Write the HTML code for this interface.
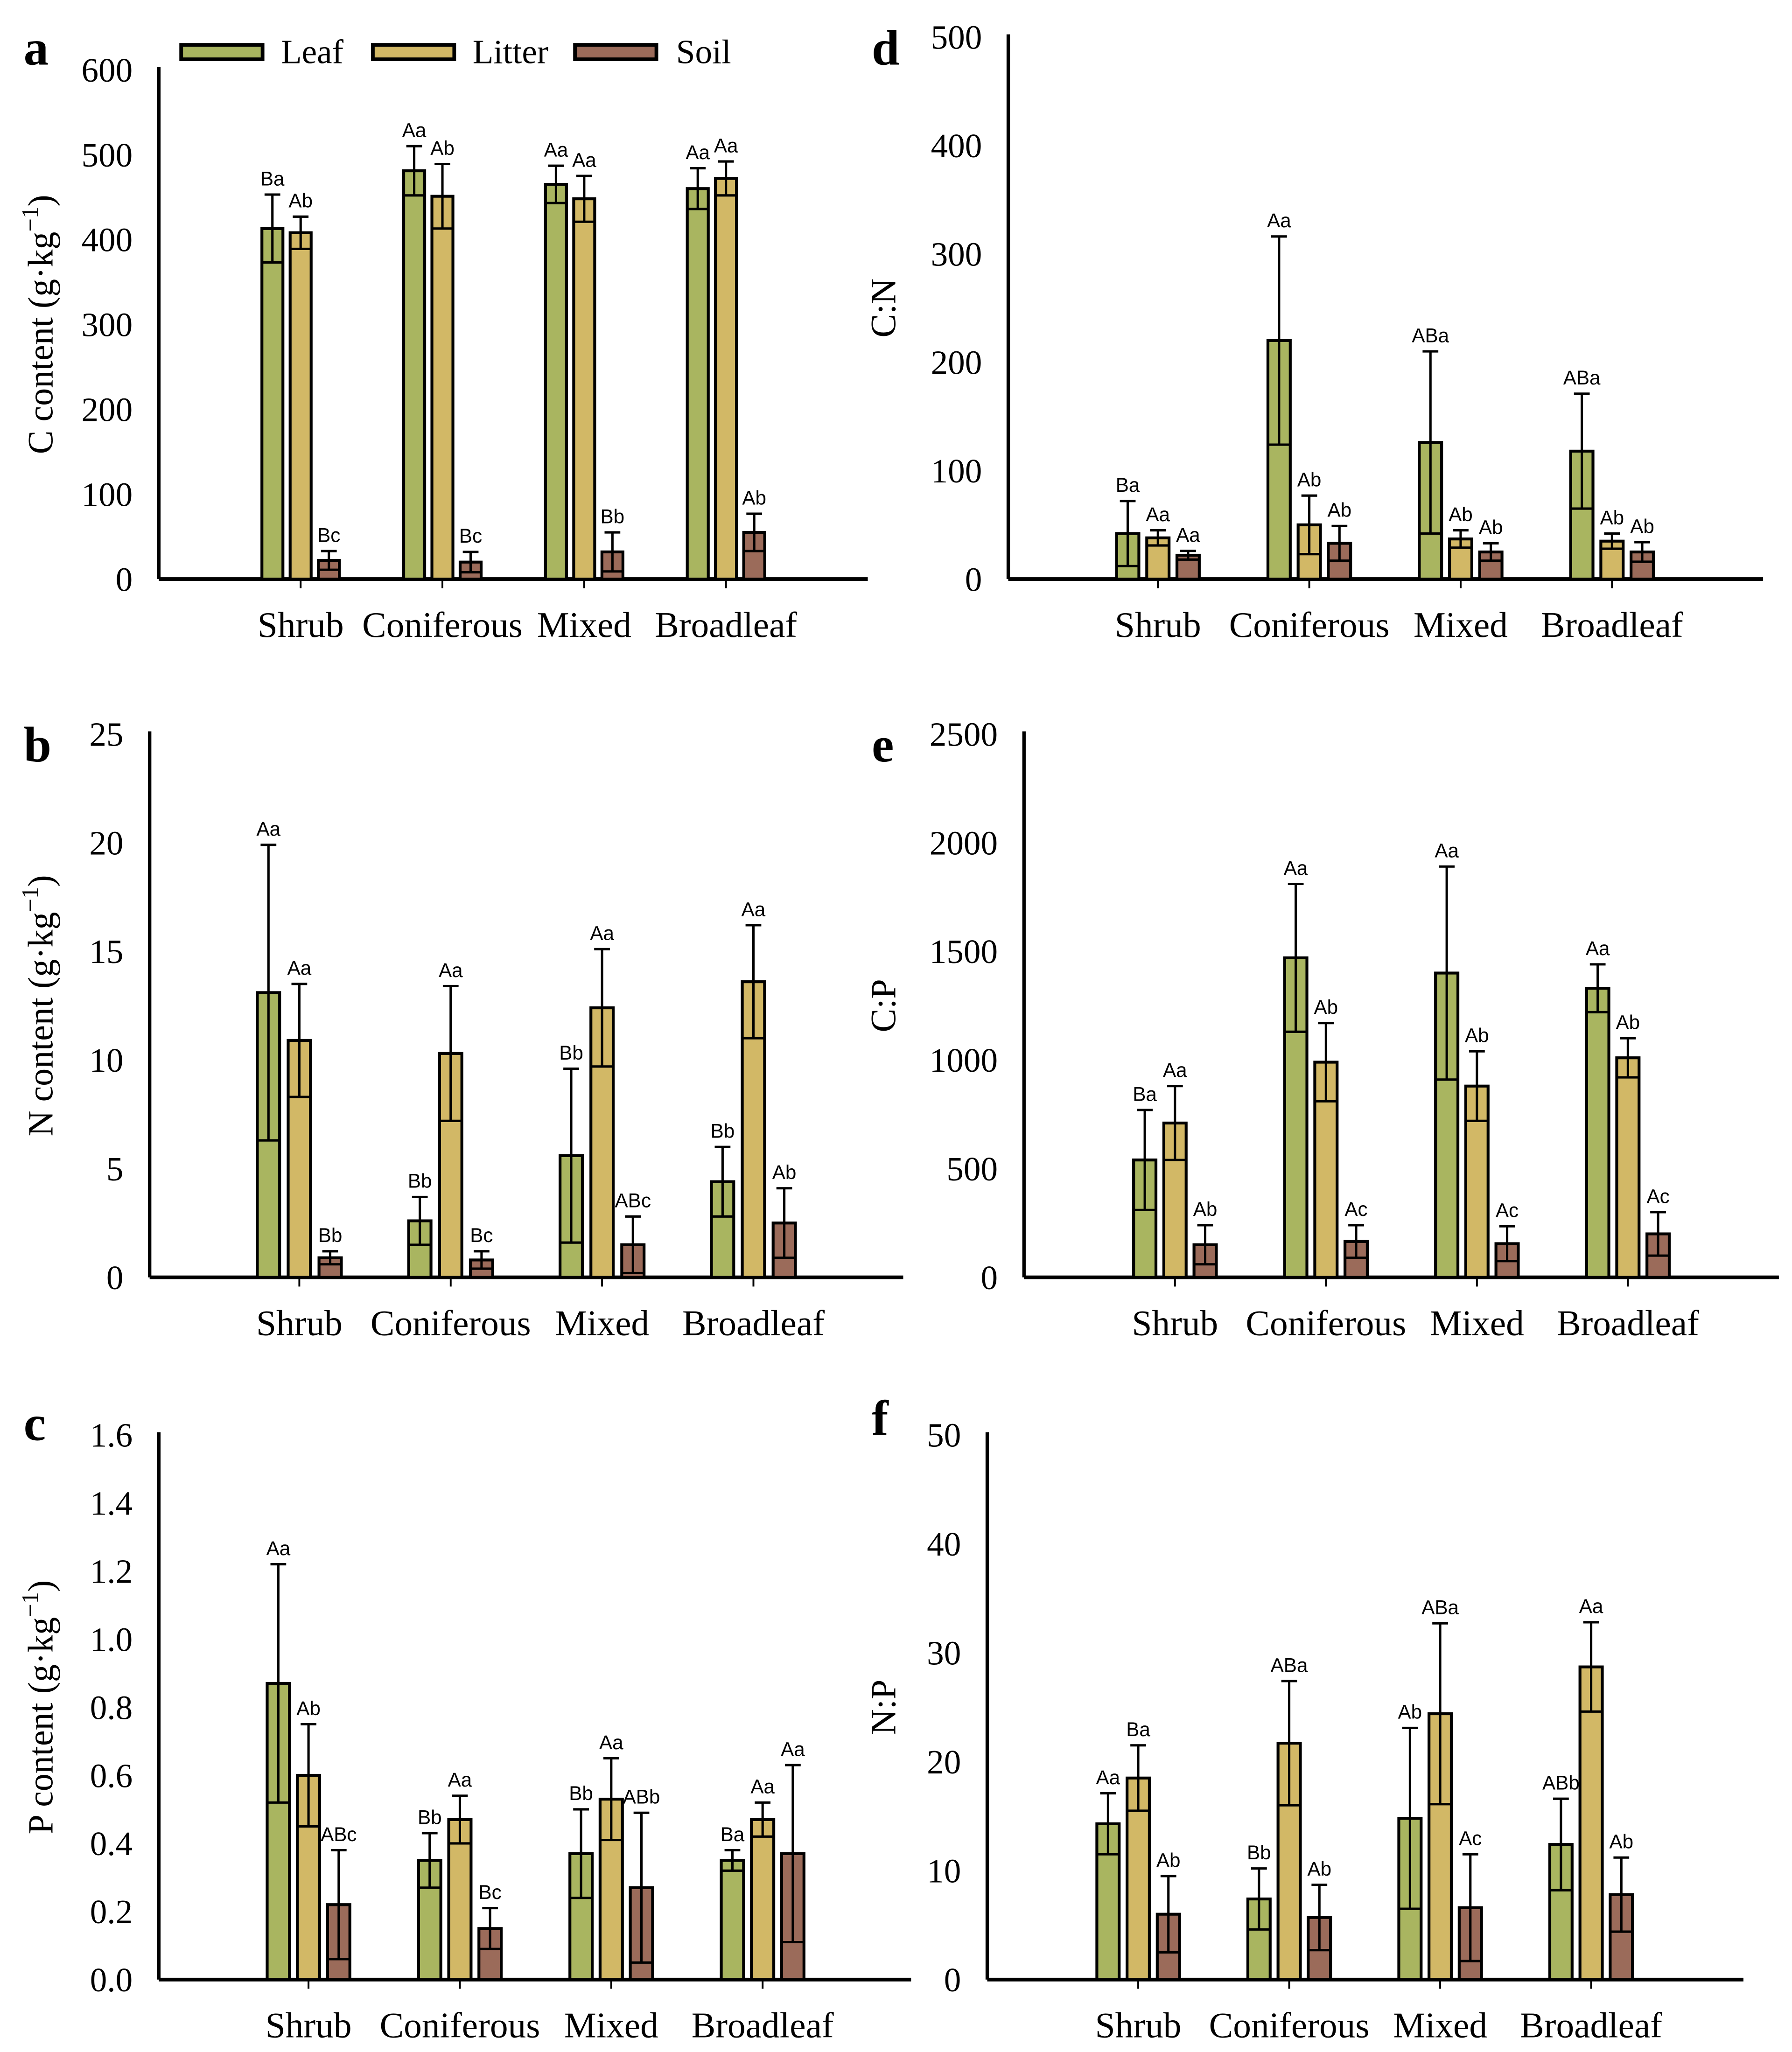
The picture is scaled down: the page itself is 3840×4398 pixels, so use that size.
<!DOCTYPE html>
<html><head><meta charset="utf-8"><style>
html,body{margin:0;padding:0;background:#fff;}
svg{display:block;}
</style></head><body>
<svg id="fig" xmlns="http://www.w3.org/2000/svg" width="3840" height="4398" viewBox="0 0 1365 1563">
<rect width="1365" height="1563" fill="#fff"/>
<g font-family="Liberation Serif, serif" font-size="26">
<rect x="138" y="34" width="62" height="11" fill="#A9B560" stroke="#000" stroke-width="2.8"/><text x="214" y="48">Leaf</text>
<rect x="284" y="34" width="62" height="11" fill="#D2B866" stroke="#000" stroke-width="2.8"/><text x="360" y="48">Litter</text>
<rect x="438" y="34" width="62" height="11" fill="#9B6B5A" stroke="#000" stroke-width="2.8"/><text x="515" y="48">Soil</text>
</g>
</svg>
<script>
const categories = ["Shrub","Coniferous","Mixed","Broadleaf"];
const seriesNames = ["Leaf","Litter","Soil"];
// a: C content
const cMean = [[413,408,22],[481,451,20],[465,448,32],[460,472,55]];
const cSd = [[40,19,11],[29,38,12],[22,27,23],[24,20,22]];
const cLetters = [["Ba","Ab","Bc"],["Aa","Ab","Bc"],["Aa","Aa","Bb"],["Aa","Aa","Ab"]];
const cTicks = [0,100,200,300,400,500,600];
// d: C:N
const cnMean = [[42,38,22],[220,50,33],[126,37,25],[118,35,25]];
const cnSd = [[30,7,4],[96,27,16],[84,8,8],[53,7,9]];
const cnLetters = [["Ba","Aa","Aa"],["Aa","Ab","Ab"],["ABa","Ab","Ab"],["ABa","Ab","Ab"]];
const cnTicks = [0,100,200,300,400,500];
// b: N content
const nMean = [[13.1,10.9,0.9],[2.6,10.3,0.8],[5.6,12.4,1.5],[4.4,13.6,2.5]];
const nSd = [[6.8,2.6,0.3],[1.1,3.1,0.4],[4.0,2.7,1.3],[1.6,2.6,1.6]];
const nLetters = [["Aa","Aa","Bb"],["Bb","Aa","Bc"],["Bb","Aa","ABc"],["Bb","Aa","Ab"]];
const nTicks = [0,5,10,15,20,25];
// e: C:P
const cpMean = [[540,710,150],[1470,990,165],[1400,880,155],[1330,1010,200]];
const cpSd = [[230,170,90],[340,180,75],[490,160,80],[110,90,100]];
const cpLetters = [["Ba","Aa","Ab"],["Aa","Ab","Ac"],["Aa","Ab","Ac"],["Aa","Ab","Ac"]];
const cpTicks = [0,500,1000,1500,2000,2500];
// c: P content
const pMean = [[0.87,0.60,0.22],[0.35,0.47,0.15],[0.37,0.53,0.27],[0.35,0.47,0.37]];
const pSd = [[0.35,0.15,0.16],[0.08,0.07,0.06],[0.13,0.12,0.22],[0.03,0.05,0.26]];
const pLetters = [["Aa","Ab","ABc"],["Bb","Aa","Bc"],["Bb","Aa","ABb"],["Ba","Aa","Aa"]];
const pTicks = ["0.0","0.2","0.4","0.6","0.8","1.0","1.2","1.4","1.6"];
// f: N:P
const npMean = [[14.3,18.5,6.0],[7.4,21.7,5.7],[14.8,24.4,6.6],[12.4,28.7,7.8]];
const npSd = [[2.8,3.0,3.5],[2.8,5.7,3.0],[8.3,8.3,4.9],[4.2,4.1,3.4]];
const npLetters = [["Aa","Ba","Ab"],["Bb","ABa","Ab"],["Ab","ABa","Ac"],["ABb","Aa","Ab"]];
const npTicks = [0,10,20,30,40,50];

const colors = ["#A9B560","#D2B866","#9B6B5A"];
const NS = "http://www.w3.org/2000/svg";
const svg = document.getElementById('fig');
function mk(tag, attrs, parent, text){
  const e = document.createElementNS(NS, tag);
  for (const k in attrs) e.setAttribute(k, attrs[k]);
  if (text !== undefined) e.textContent = text;
  parent.appendChild(e);
  return e;
}
function panel(cfg){
  const g = mk('g', {}, svg);
  
  
  const ticks = cfg.ticks.map(Number);
  const ymax = ticks[ticks.length-1];
  const y = v => cfg.y0 - (v / ymax) * (cfg.y0 - cfg.ytop);
  const cx = i => cfg.c0 + i * cfg.step;
  const ax = mk('line', {x1:cfg.ax, y1:cfg.ytop - 2, x2:cfg.ax, y2:cfg.y0, stroke:'#000','stroke-width':2.6}, g);
  
  
  const bx = mk('line', {x1:cfg.ax, y1:cfg.y0, x2:cfg.xend, y2:cfg.y0, stroke:'#000','stroke-width':2.8}, g);
  
  
  cfg.ticks.forEach(t => {
    const tl = mk('text', {x:cfg.ax - 20, y:y(Number(t)) + 9, 'text-anchor':'end','font-family':'Liberation Serif, serif','font-size':26}, g, String(t));
    
    
  });
  categories.forEach((c, i) => {
    mk('line', {x1:cx(i), y1:cfg.y0, x2:cx(i), y2:cfg.y0 + 7, stroke:'#000','stroke-width':1.4}, g);
    const cl = mk('text', {x:cx(i), y:cfg.y0 + 44, 'text-anchor':'middle','font-family':'Liberation Serif, serif','font-size':27.5}, g, c);
    
    
    for (let s = 0; s < 3; s++) {
      const m = cfg.mean[i][s], sd = cfg.sd[i][s];
      const bcx = cx(i) + (s - 1) * cfg.off;
      const bar = mk('rect', {x:bcx - cfg.bw/2, y:y(m), width:cfg.bw, height:cfg.y0 - y(m), fill:colors[s], stroke:'#000','stroke-width':2.2}, g);
      
      
      const lo = Math.max(0, m - sd), hi = m + sd;
      const eb = mk('path', {d:`M${bcx},${y(lo)}V${y(hi)}M${bcx-6},${y(hi)}H${bcx+6}M${bcx-cfg.bw/2},${y(lo)}H${bcx+cfg.bw/2}`, stroke:'#000','stroke-width':1.8, fill:'none'}, g);
      
      
      const lt = mk('text', {x:bcx, y:y(hi) - 7, 'text-anchor':'middle','font-family':'Liberation Sans, sans-serif','font-size':15}, g, cfg.letters[i][s]);
      
      
    }
  });
  const pl = mk('text', {x:cfg.lx, y:cfg.ly, 'font-family':'Liberation Serif, serif','font-size':38,'font-weight':'bold'}, g, cfg.id);
  
  
  const tt = mk('text', {transform:`translate(${cfg.tx},${(cfg.ytop+cfg.y0)/2}) rotate(-90)`, 'text-anchor':'middle','font-family':'Liberation Serif, serif','font-size':27}, g);
  
  
  if (cfg.unit) {
    tt.textContent = cfg.title + ' (g·kg';
    mk('tspan', {dy:-11, 'font-size':18}, tt, '−1');
    mk('tspan', {dy:11}, tt, ')');
  } else tt.textContent = cfg.title;
}
panel({id:'a', ax:121, ytop:53, y0:441, xend:661, c0:229, step:108, off:21.5, bw:16, ticks:cTicks, mean:cMean, sd:cSd, letters:cLetters, lx:18, ly:49, tx:40, title:'C content', unit:true});
panel({id:'d', ax:768, ytop:28, y0:441, xend:1343, c0:882, step:115.3, off:23, bw:17, ticks:cnTicks, mean:cnMean, sd:cnSd, letters:cnLetters, lx:664, ly:49, tx:682, title:'C:N', unit:false});
panel({id:'b', ax:114, ytop:559, y0:973, xend:688, c0:228, step:115.3, off:23.5, bw:17, ticks:nTicks, mean:nMean, sd:nSd, letters:nLetters, lx:18, ly:580, tx:40, title:'N content', unit:true});
panel({id:'e', ax:780, ytop:559, y0:973, xend:1355, c0:895, step:115, off:23, bw:17, ticks:cpTicks, mean:cpMean, sd:cpSd, letters:cpLetters, lx:664, ly:580, tx:682, title:'C:P', unit:false});
panel({id:'c', ax:121, ytop:1093, y0:1508, xend:694, c0:235, step:115.3, off:23, bw:17, ticks:pTicks, mean:pMean, sd:pSd, letters:pLetters, lx:18, ly:1097, tx:40, title:'P content', unit:true});
panel({id:'f', ax:752, ytop:1093, y0:1508, xend:1328, c0:867, step:115, off:23, bw:17, ticks:npTicks, mean:npMean, sd:npSd, letters:npLetters, lx:664, ly:1093, tx:682, title:'N:P', unit:false});
</script>
</body></html>
